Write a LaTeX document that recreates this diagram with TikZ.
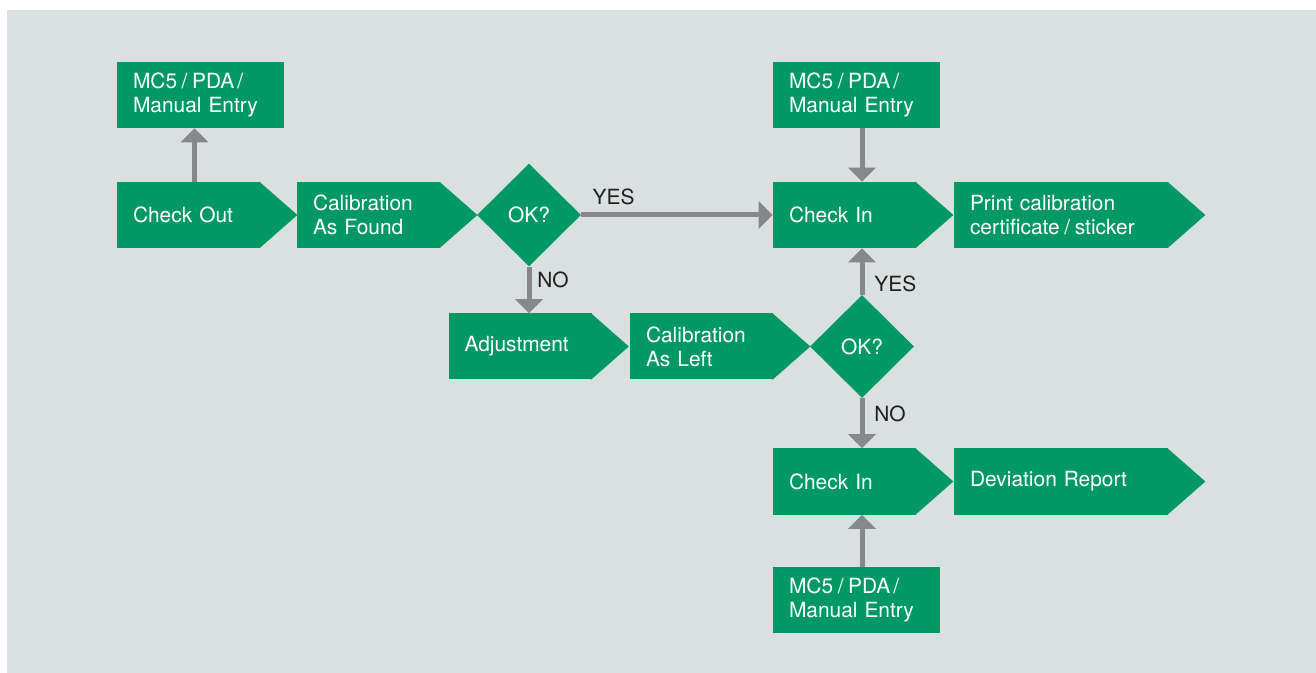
\documentclass[tikz,border=0pt]{standalone}
\usepackage{fontspec}
\setmainfont{TeX Gyre Heros}
\usetikzlibrary{shapes.geometric, arrows.meta}

\definecolor{vgreen}{HTML}{009966}
\definecolor{vgrey}{HTML}{87888C}
\definecolor{vback}{HTML}{D9E1E0}
\definecolor{vtext}{HTML}{231F20}

\newcommand{\slashsep}{\kern0.22em/\kern0.22em}

\tikzset{
  box/.style={fill=vgreen, text=white, minimum height=1.32cm, inner xsep=0.32cm,
    inner ysep=0pt, align=left, font=\fontsize{11.9}{13.7}\selectfont},
  entry/.style={box, text width=2.70cm},
  stepbox/.style={box, text width=2.22cm},
  widebox/.style={box, text width=3.64cm},
  decide/.style={diamond, fill=vgreen, text=white, minimum width=2.08cm,
    minimum height=2.06cm, inner sep=0pt, font=\fontsize{11.9}{13.7}\selectfont},
  flow/.style={-{Triangle[width=0.54cm,length=0.28cm]}, line width=0.1cm, vgrey},
  lbl/.style={anchor=base west, inner sep=0pt, text=vtext,
    font=\fontsize{11.9}{13.7}\selectfont}
}

\begin{document}
\begin{tikzpicture}
  \useasboundingbox (0,0) rectangle (26.32,-13.46);
  \fill[vback] (0.14,-0.2) rectangle (26.32,-13.46);

  % first row
  \node[entry]   (mcA)      at (4.01,-1.90)  {MC5\slashsep PDA\kern0.15em/\\Manual Entry};
  \node[stepbox] (checkout) at (3.77,-4.30)  {Check Out};
  \node[stepbox] (calfound) at (7.37,-4.30)  {Calibration\\As Found};
  \node[decide]  (okA)      at (10.58,-4.30) {OK?};
  \node[entry]   (mcB)      at (17.13,-1.90) {MC5\slashsep PDA\kern0.15em/\\Manual Entry};
  \node[stepbox] (checkinA) at (16.89,-4.30) {Check In};
  \node[widebox] (print)    at (21.22,-4.30) {Print calibration\\certificate\slashsep sticker};

  % second row
  \node[stepbox] (adjust)   at (10.40,-6.93) {Adjustment};
  \node[stepbox] (calleft)  at (14.03,-6.93) {Calibration\\As Left};
  \node[decide]  (okB)      at (17.24,-6.93) {OK?};

  % third row
  \node[stepbox] (checkinB) at (16.89,-9.63)  {Check In};
  \node[widebox] (devrep)   at (21.22,-9.63)  {Deviation Report};
  \node[entry]   (mcC)      at (17.13,-12.00) {MC5\slashsep PDA\kern0.15em/\\Manual Entry};

  % arrow points of the step boxes
  \foreach \n in {checkout, calfound, checkinA, print, adjust, calleft, checkinB, devrep}
    \fill[vgreen] ([xshift=-0.02cm]\n.north east) -- ([xshift=0.74cm]\n.east)
      -- ([xshift=-0.02cm]\n.south east) -- cycle;

  % connectors
  \draw[flow] ([xshift=0.12cm]checkout.north) -- ([xshift=0.12cm]checkout.north |- mcA.south);
  \draw[flow] (okA.east) -- (checkinA.west);
  \draw[flow] (okA.south) -- (okA.south |- adjust.north);
  \draw[flow] (okB.north) -- (okB.north |- checkinA.south);
  \draw[flow] (okB.south) -- (okB.south |- checkinB.north);
  \draw[flow] (okB |- mcB.south) -- (okB |- checkinA.north);
  \draw[flow] (okB |- mcC.north) -- (okB |- checkinB.south);

  % answers
  \node[lbl] (yesA) at ([xshift=0.22cm, yshift=0.20cm]okA.east)  {YES};
  \node[lbl] (noA)  at ([xshift=0.16cm, yshift=-0.42cm]okA.south) {NO};
  \node[lbl] (yesB) at ([xshift=0.24cm, yshift=0.06cm]okB.north)  {YES};
  \node[lbl] (noB)  at ([xshift=0.24cm, yshift=-0.46cm]okB.south) {NO};
\end{tikzpicture}
\end{document}
